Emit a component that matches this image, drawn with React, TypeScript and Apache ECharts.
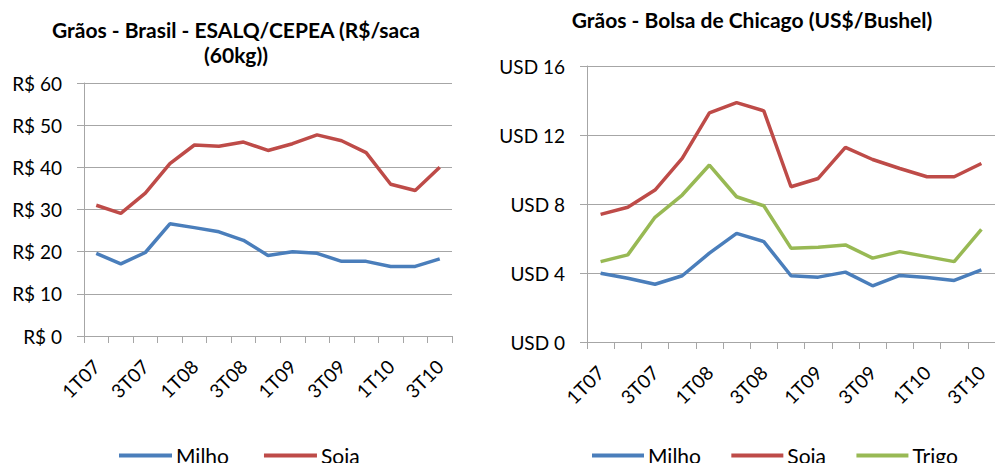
import React, { useEffect, useRef } from "react";
import * as echarts from "echarts";

const categories = ["1T07", "2T07", "3T07", "4T07", "1T08", "2T08", "3T08", "4T08", "1T09", "2T09", "3T09", "4T09", "1T10", "2T10", "3T10"];

const brMilho = [19.6, 17.1, 19.8, 26.6, 25.7, 24.7, 22.7, 19.1, 20.0, 19.6, 17.7, 17.7, 16.5, 16.5, 18.3];
const brSoja = [31.0, 29.1, 33.9, 40.9, 45.3, 45.0, 46.0, 44.0, 45.6, 47.7, 46.3, 43.5, 36.0, 34.5, 40.0];

const chMilho = [3.99, 3.70, 3.35, 3.84, 5.15, 6.30, 5.82, 3.84, 3.76, 4.05, 3.26, 3.86, 3.74, 3.57, 4.18];
const chSoja = [7.40, 7.81, 8.81, 10.64, 13.28, 13.88, 13.40, 9.00, 9.48, 11.28, 10.58, 10.06, 9.58, 9.58, 10.35];
const chTrigo = [4.66, 5.05, 7.23, 8.52, 10.26, 8.42, 7.90, 5.44, 5.49, 5.63, 4.86, 5.24, 4.95, 4.66, 6.53];

const leftTitle = "Grãos - Brasil - ESALQ/CEPEA (R$/saca\n(60kg))";
const rightTitle = "Grãos - Bolsa de Chicago (US$/Bushel)";

const FONT = "Lato";
const BLUE = "#4A7EBB";
const RED = "#BE4B48";
const GREEN = "#98B954";
const GRID = "#A6A6A6";

export default function App() {
  const ref = useRef<HTMLDivElement>(null);
  useEffect(() => {
    if (!ref.current) return;
    const chart = echarts.init(ref.current, null, { renderer: "svg" });
    const xAxisBase = (gridIndex: number) => ({
      type: "category" as const,
      gridIndex,
      data: categories,
      boundaryGap: true,
      axisLine: { show: true, lineStyle: { color: GRID, width: 1 } },
      axisTick: { show: true, interval: 0, length: 7, lineStyle: { color: GRID } },
      axisLabel: {
        interval: 1,
        rotate: 45,
        margin: 27,
        fontFamily: FONT,
        fontSize: 19,
        color: "#000",
      },
      splitLine: { show: false },
    });
    const yAxisBase = (gridIndex: number, max: number, interval: number, prefix: string) => ({
      type: "value" as const,
      gridIndex,
      min: 0,
      max,
      interval,
      axisLine: { show: true, lineStyle: { color: GRID, width: 1 } },
      axisTick: { show: true, length: 7, lineStyle: { color: GRID } },
      axisLabel: {
        margin: 22,
        fontFamily: FONT,
        fontSize: 19,
        color: "#000",
        formatter: (v: number) => prefix + " " + v,
      },
      splitLine: { show: true, lineStyle: { color: GRID, width: 1 } },
    });
    const lineSeries = (name: string, data: number[], color: string, idx: number) => ({
      type: "line" as const,
      name,
      data,
      xAxisIndex: idx,
      yAxisIndex: idx,
      showSymbol: false,
      symbol: "none",
      lineStyle: { color, width: 3.5 },
      itemStyle: { color },
    });
    chart.setOption({
      animation: false,
      title: [
        {
          text: leftTitle,
          left: 236,
          top: 17,
          padding: 0,
          textAlign: "center",
          textStyle: { fontFamily: FONT, fontSize: 21, fontWeight: "bold", color: "#000", lineHeight: 25 },
        },
        {
          text: rightTitle,
          left: 752,
          top: 7,
          padding: 0,
          textAlign: "center",
          textStyle: { fontFamily: FONT, fontSize: 21, fontWeight: "bold", color: "#000", lineHeight: 25 },
        },
      ],
      legend: [
        {
          data: ["Milho", "Soja"],
          left: 119,
          top: 445,
          padding: 0,
          itemWidth: 53,
          itemHeight: 4,
          itemGap: 35,
          icon: "rect",
          textStyle: { fontFamily: FONT, fontSize: 21, color: "#000", padding: [0, 0, 0, -1] },
        },
        {
          data: ["Milho ", "Soja ", "Trigo"],
          left: 592,
          top: 445,
          padding: 0,
          itemWidth: 52,
          itemHeight: 4,
          itemGap: 25,
          icon: "rect",
          textStyle: { fontFamily: FONT, fontSize: 21, color: "#000", padding: [0, 0, 0, -1] },
        },
      ],
      grid: [
        { left: 84, right: 543, top: 83, bottom: 127, containLabel: false },
        { left: 587, right: -11, top: 66, bottom: 121, containLabel: false },
      ],
      xAxis: [xAxisBase(0), xAxisBase(1)],
      yAxis: [yAxisBase(0, 60, 10, "R$"), yAxisBase(1, 16, 4, "USD")],
      series: [
        lineSeries("Milho", brMilho, BLUE, 0),
        lineSeries("Soja", brSoja, RED, 0),
        lineSeries("Milho ", chMilho, BLUE, 1),
        lineSeries("Soja ", chSoja, RED, 1),
        lineSeries("Trigo", chTrigo, GREEN, 1),
      ],
    });
    return () => chart.dispose();
  }, []);
  return (
    <div
      ref={ref}
      style={{ position: "fixed", left: 0, top: 0, width: 995, height: 463, background: "#fff", overflow: "hidden" }}
    />
  );
}
